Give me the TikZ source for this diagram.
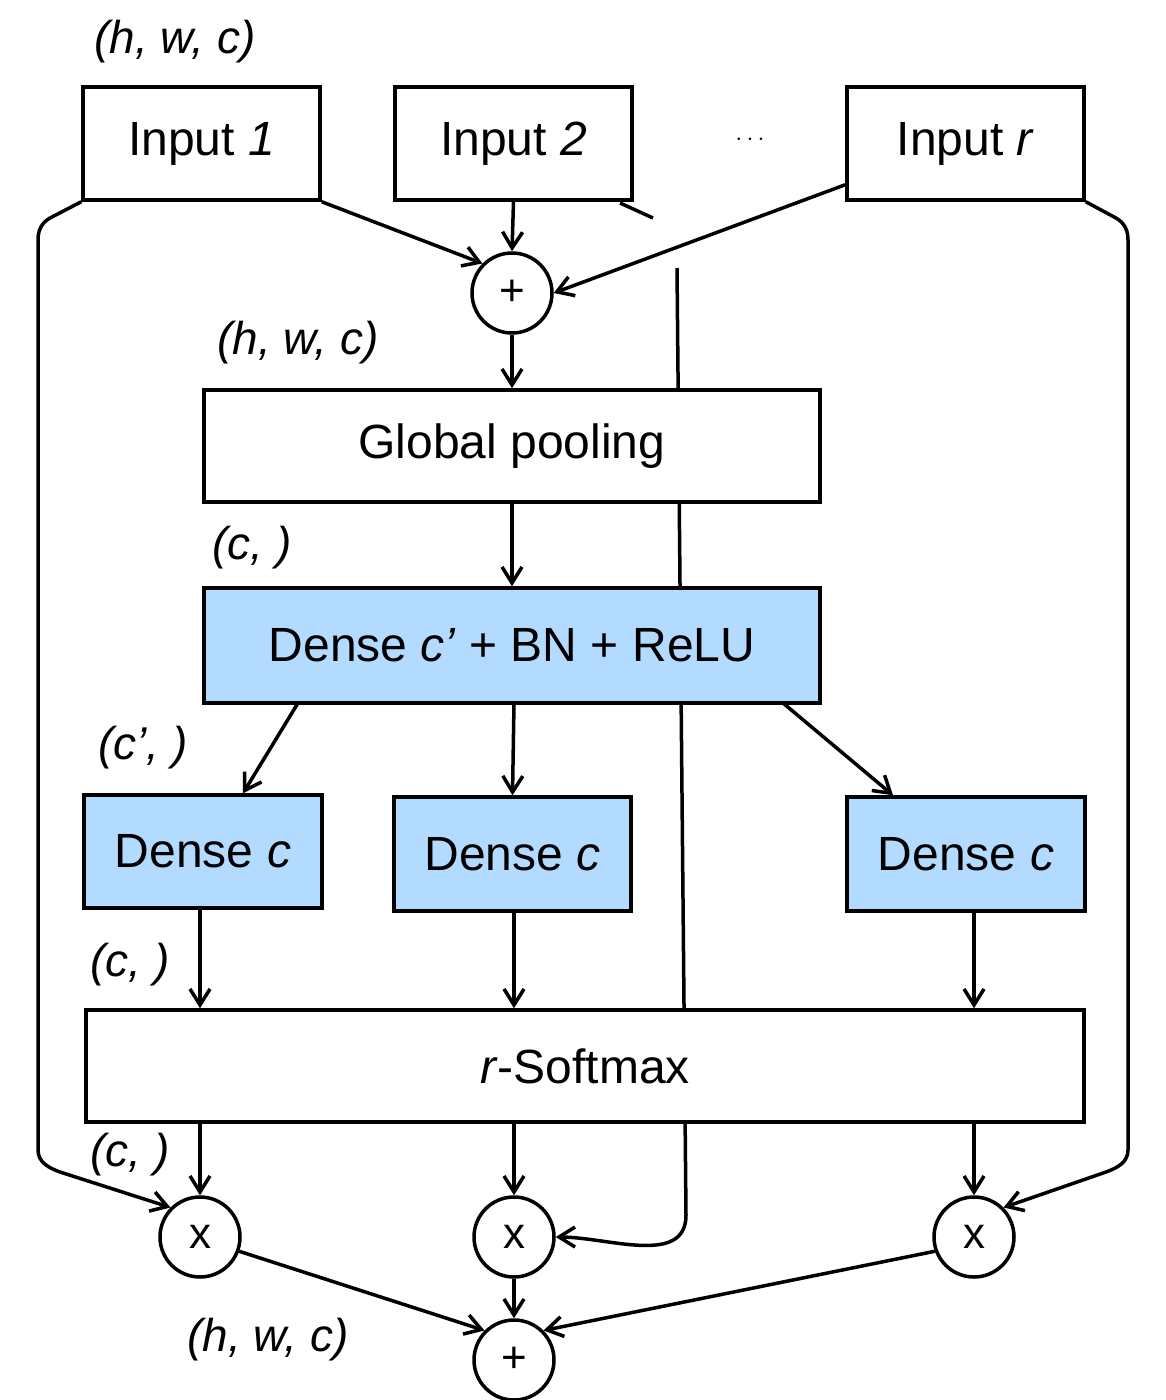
\documentclass[tikz,border=0pt]{standalone}
\usepackage{fontspec}
\setmainfont{Liberation Sans}
\usetikzlibrary{arrows.meta}
\definecolor{lb}{HTML}{B3DAFF}
\begin{document}
\begin{tikzpicture}[x=1pt,y=-1pt,line width=3.5pt,
  box/.style={draw,fill=white,line width=3.5pt,font=\fontsize{48}{52}\selectfont,inner sep=0pt},
  circ/.style={draw,fill=white,circle,minimum size=80pt,inner sep=0pt,font=\fontsize{44}{48}\selectfont},
  lbl/.style={font=\fontsize{46}{50}\selectfont\itshape},
  arr/.style={-{Stealth[length=20pt,width=18pt,open]}},
  ]
\useasboundingbox (0,0) rectangle (1166,1400);
\tikzset{>={Straight Barb[length=16pt,width=20pt]}}
% long vertical line
\coordinate (t0) at (620,203); \coordinate (t1) at (653,218);
\draw (t0) -- (t1);
\coordinate (v0) at (677,268); \coordinate (v1) at (686,1215);
\node[circ] (x2) at (514,1237) {x};
\draw[->] (v0) -- (v1) to[out=-90,in=0] (x2.east);
% boxes
\node[box,minimum width=237pt,minimum height=113pt] (i1) at (201.5,143.5) {Input \textit{1}};
\node[box,minimum width=237pt,minimum height=113pt] (i2) at (513.5,143.5) {Input \textit{2}};
\node[box,minimum width=237pt,minimum height=113pt] (ir) at (965.5,143.5) {Input \textit{r}};
\node[font=\fontsize{48}{52}\selectfont] (dots) at (750,140) {$\cdots$};
\node[circ] (p1) at (512,293) {+};
\node[box,minimum width=616pt,minimum height=112pt] (gp) at (512,446) {Global pooling};
\node[box,fill=lb,minimum width=616pt,minimum height=115pt] (dn) at (512,645.5) {Dense \textit{c’} + BN + ReLU};
\node[box,fill=lb,minimum width=238pt,minimum height=113pt] (d1) at (203,851.5) {Dense \textit{c}};
\node[box,fill=lb,minimum width=237pt,minimum height=114pt] (d2) at (512.5,854) {Dense \textit{c}};
\node[box,fill=lb,minimum width=238pt,minimum height=114pt] (d3) at (966,854) {Dense \textit{c}};
\node[box,minimum width=998pt,minimum height=112pt] (sm) at (585,1066) {\textit{r}-Softmax};
\node[circ] (x1) at (200,1237) {x};
\node[circ] (x3) at (974,1237) {x};
\node[circ] (p2) at (514,1360) {+};
% labels
\node[lbl] (l1) at (175,42) {(h, w, c)};
\node[lbl] (l2) at (298,343) {(h, w, c)};
\node[lbl] (l3) at (252,548) {(c, )};
\node[lbl] (l4) at (143,748) {(c’, )};
\node[lbl] (l5) at (130,965) {(c, )};
\node[lbl] (l6) at (130,1155) {(c, )};
\node[lbl] (l7) at (268,1340) {(h, w, c)};
% side paths
\draw[->] (i1.south west) -- (50,218) to[out=-150,in=90] (38,240) -- (38,1150) to[out=-90,in=160] (60,1172) -- (x1.north west);
\draw[->] (ir.south east) -- (1116,218) to[out=-30,in=90] (1128,240) -- (1128,1150) to[out=-90,in=20] (1106,1172) -- (x3.north east);
% top arrows
\draw[->] (i1.south east) -- (p1.north west);
\draw[->] (i2.south) -- (p1.north);
\draw[->] ([yshift=17pt]ir.south west) -- (p1.east);
\draw[->] (p1.south) -- (gp.north);
\draw[->] (gp.south) -- (dn.north);
\draw[->] (298,703) coordinate (a1) -- (d1.north east -| 243,0);
\draw[->] (514,703) coordinate (a2) -- (d2.north);
\draw[->] (783,703) coordinate (a3) -- (d3.north west -| 893,0);
\draw[->] (d1.south -| 200,0) -- (sm.north -| 200,0);
\draw[->] (d2.south -| 514,0) -- (sm.north -| 514,0);
\draw[->] (d3.south -| 974,0) -- (sm.north -| 974,0);
\draw[->] (sm.south -| 200,0) -- (x1.north);
\draw[->] (sm.south -| 514,0) -- (x2.north);
\draw[->] (sm.south -| 974,0) -- (x3.north);
\draw[->] (x1.-20) -- (p2.north west);
\draw[->] (x2.south) -- (p2.north);
\draw[->] (x3.-160) -- (p2.north east);
\end{tikzpicture}
\end{document}
